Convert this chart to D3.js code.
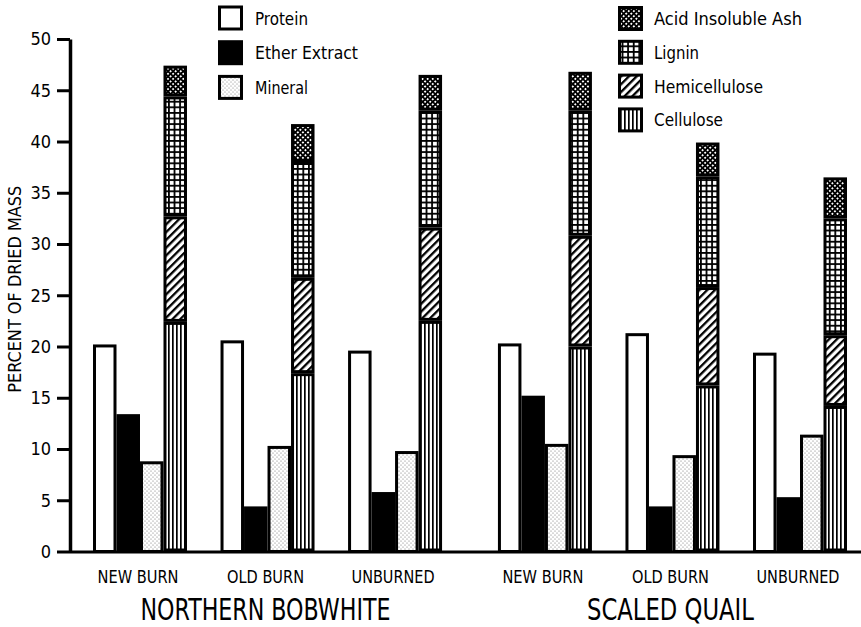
<!DOCTYPE html>
<html>
<head>
<meta charset="utf-8">
<script src="https://cdn.jsdelivr.net/npm/d3@7"></script>
<style>
  body { margin: 0; background: #fff; }
  text { font-family: "DejaVu Sans Condensed", "Liberation Sans Narrow", "DejaVu Sans", sans-serif; fill: #000; }
</style>
</head>
<body>
<svg id="drawing_region"></svg>
<script>
// categories
const species = ["NORTHERN BOBWHITE", "SCALED QUAIL"];
const treatments = ["NEW BURN", "OLD BURN", "UNBURNED"];
const yTicks = [0, 5, 10, 15, 20, 25, 30, 35, 40, 45, 50];

// values, order: NB new, NB old, NB unburned, SQ new, SQ old, SQ unburned
const protein          = [20.2, 20.6, 19.6, 20.3, 21.3, 19.4];
const etherExtract     = [13.4, 4.4, 5.8, 15.2, 4.4, 5.3];
const mineral          = [8.8, 10.3, 9.8, 10.5, 9.4, 11.4];
const cellulose        = [22.4, 17.4, 22.5, 20.0, 16.2, 14.2];
const hemicellulose    = [10.3, 9.3, 9.1, 10.8, 9.6, 6.9];
const lignin           = [11.7, 11.3, 11.4, 12.2, 10.8, 11.4];
const acidInsolubleAsh = [3.0, 3.7, 3.5, 3.8, 3.3, 4.0];

const leftLegend  = ["Protein", "Ether Extract", "Mineral"];
const rightLegend = ["Acid Insoluble Ash", "Lignin", "Hemicellulose", "Cellulose"];

const config = {
    width: 861,
    height: 627,
    margin: {top: 39, left: 70, bottom: 75.5}
};

const svg = d3.select('#drawing_region')
    .attr('width', config.width)
    .attr('height', config.height);

// ---- patterns
const defs = svg.append('defs');

let p = defs.append('pattern').attr('id', 'pat-cellulose')
    .attr('patternUnits', 'userSpaceOnUse').attr('width', 4).attr('height', 10);
p.append('rect').attr('width', 4).attr('height', 10).attr('fill', '#fff');
p.append('rect').attr('width', 1.7).attr('height', 10).attr('fill', '#000');

p = defs.append('pattern').attr('id', 'pat-hemi')
    .attr('patternUnits', 'userSpaceOnUse').attr('width', 5.5).attr('height', 10)
    .attr('patternTransform', 'rotate(45)');
p.append('rect').attr('width', 5.5).attr('height', 10).attr('fill', '#fff');
p.append('rect').attr('width', 2.3).attr('height', 10).attr('fill', '#000');

p = defs.append('pattern').attr('id', 'pat-lignin')
    .attr('patternUnits', 'userSpaceOnUse').attr('width', 5.6).attr('height', 5.6);
p.append('rect').attr('width', 5.6).attr('height', 5.6).attr('fill', '#000');
p.append('rect').attr('x', 1.8).attr('y', 1.8).attr('width', 3.8).attr('height', 3.8).attr('fill', '#fff');

p = defs.append('pattern').attr('id', 'pat-ash')
    .attr('patternUnits', 'userSpaceOnUse').attr('width', 3.6).attr('height', 3.6)
    .attr('patternTransform', 'rotate(45)');
p.append('rect').attr('width', 3.6).attr('height', 3.6).attr('fill', '#000');
p.append('rect').attr('x', 0.9).attr('y', 0.9).attr('width', 1.8).attr('height', 1.8).attr('fill', '#fff');

p = defs.append('pattern').attr('id', 'pat-mineral')
    .attr('patternUnits', 'userSpaceOnUse').attr('width', 4).attr('height', 4);
p.append('rect').attr('width', 4).attr('height', 4).attr('fill', '#fff');
p.append('circle').attr('cx', 1).attr('cy', 1).attr('r', 0.5).attr('fill', '#555');
p.append('circle').attr('cx', 3).attr('cy', 3).attr('r', 0.5).attr('fill', '#555');

const fills = {
    "Protein": '#fff',
    "Ether Extract": '#000',
    "Mineral": 'url(#pat-mineral)',
    "Cellulose": 'url(#pat-cellulose)',
    "Hemicellulose": 'url(#pat-hemi)',
    "Lignin": 'url(#pat-lignin)',
    "Acid Insoluble Ash": 'url(#pat-ash)'
};

// ---- scales
const yscale = d3.scaleLinear()
    .domain([0, 50])
    .range([config.height - config.margin.bottom, config.margin.top]);

const x0 = d3.scaleBand()
    .domain(species)
    .range([93, 847])
    .paddingInner(0.138);

const x1 = d3.scaleBand()
    .domain(treatments)
    .range([0, x0.bandwidth()])
    .paddingInner(0.263);

const x2 = d3.scaleBand()
    .domain(["simple0", "simple1", "simple2", "fiber"])
    .range([0, x1.bandwidth()]);

// build rows
const rows = [];
species.forEach((s, i) => {
    treatments.forEach((t, j) => {
        const k = i * treatments.length + j;
        rows.push({
            species: s, treatment: t,
            "Protein": protein[k], "Ether Extract": etherExtract[k], "Mineral": mineral[k],
            "Cellulose": cellulose[k], "Hemicellulose": hemicellulose[k],
            "Lignin": lignin[k], "Acid Insoluble Ash": acidInsolubleAsh[k]
        });
    });
});

const gx = d => x0(d.species) + x1(d.treatment);
const sw = 3;

const chart = svg.append('g');

// simple bars
leftLegend.forEach((key, idx) => {
    chart.selectAll(null)
        .data(rows)
        .enter()
        .append('rect')
        .attr('x', d => gx(d) + x2("simple" + idx) + sw / 2)
        .attr('y', d => yscale(d[key]) + sw / 2)
        .attr('width', x2.bandwidth() - sw)
        .attr('height', d => yscale(0) - yscale(d[key]) - sw / 2)
        .attr('fill', fills[key])
        .attr('stroke', '#000')
        .attr('stroke-width', sw);
});

// stacked fibre bars
const stackKeys = ["Cellulose", "Hemicellulose", "Lignin", "Acid Insoluble Ash"];
const stacked = d3.stack().keys(stackKeys)(rows);

chart.selectAll('g.layer')
    .data(stacked)
    .enter()
    .append('g')
    .attr('class', 'layer')
    .attr('fill', d => fills[d.key])
    .selectAll('rect')
    .data(d => d)
    .enter()
    .append('rect')
    .attr('x', d => gx(d.data) + x2("fiber") + sw / 2)
    .attr('y', d => yscale(d[1]) + sw / 2)
    .attr('width', x2.bandwidth() - sw)
    .attr('height', d => yscale(d[0]) - yscale(d[1]) - sw)
    .attr('stroke', '#000')
    .attr('stroke-width', sw);

// ---- axes
const yaxis = d3.axisLeft(yscale)
    .tickValues(yTicks)
    .tickSize(13)
    .tickSizeOuter(0)
    .tickPadding(6);

const yaxis_group = svg.append('g')
    .attr('transform', `translate(${config.margin.left}, 0)`)
    .call(yaxis);
yaxis_group.select('.domain').attr('stroke-width', 3.5);
yaxis_group.selectAll('.tick line').attr('stroke-width', 3);
yaxis_group.selectAll('.tick text')
    .attr('font-size', 18)
    .style('font-family', '"DejaVu Sans Condensed", "Liberation Sans Narrow", "DejaVu Sans", sans-serif');

svg.append('line')
    .attr('x1', config.margin.left)
    .attr('x2', config.width)
    .attr('y1', yscale(0) + 0.5)
    .attr('y2', yscale(0) + 0.5)
    .attr('stroke', '#000')
    .attr('stroke-width', 3);

svg.append('text')
    .attr('transform', `translate(21, ${(yscale(0) + yscale(50)) / 2 - 6}) rotate(-90)`)
    .attr('text-anchor', 'middle')
    .attr('font-size', 17.5)
    .attr('textLength', 207)
    .attr('lengthAdjust', 'spacingAndGlyphs')
    .text('PERCENT OF DRIED MASS');

// category labels
svg.selectAll('text.cat')
    .data(rows)
    .enter()
    .append('text')
    .attr('class', 'cat')
    .attr('x', d => gx(d) + x1.bandwidth() / 2 - 2)
    .attr('y', 583)
    .attr('text-anchor', 'middle')
    .attr('font-size', 17.5)
    .attr('textLength', d => d.treatment === "UNBURNED" ? 83 : (d.treatment === "NEW BURN" ? 81 : 77))
    .attr('lengthAdjust', 'spacingAndGlyphs')
    .text(d => d.treatment);

// species titles
svg.selectAll('text.species')
    .data(species)
    .enter()
    .append('text')
    .attr('class', 'species')
    .attr('x', d => x0(d) + x0.bandwidth() / 2 - 2)
    .attr('y', 620)
    .attr('text-anchor', 'middle')
    .attr('font-size', 30)
    .attr('textLength', d => d === "SCALED QUAIL" ? 167 : 250)
    .attr('lengthAdjust', 'spacingAndGlyphs')
    .text(d => d);

// ---- legends
function legend(keys, bx, tx, y0, step, lens) {
    const g = svg.append('g');
    const item = g.selectAll('g')
        .data(keys)
        .enter()
        .append('g')
        .attr('transform', (d, i) => `translate(0, ${y0 + i * step})`);
    item.append('rect')
        .attr('x', bx + 1.5)
        .attr('y', 1.5)
        .attr('width', 22)
        .attr('height', 22)
        .attr('fill', d => fills[d])
        .attr('stroke', '#000')
        .attr('stroke-width', 3);
    item.append('text')
        .attr('x', tx)
        .attr('y', 19)
        .attr('font-size', 17)
        .attr('textLength', (d, i) => lens[i])
        .attr('lengthAdjust', 'spacingAndGlyphs')
        .text(d => d);
}
legend(leftLegend, 218, 255, 5.5, 34.7, [53, 103, 53]);
legend(rightLegend, 618, 654, 6, 33.8, [148, 45, 109, 69]);
</script>
</body>
</html>
